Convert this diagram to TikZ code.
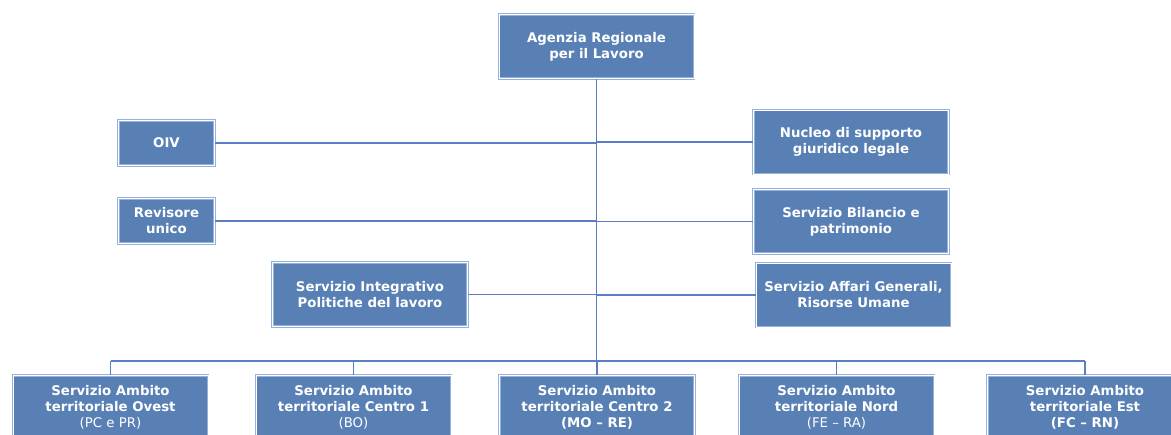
\documentclass[tikz,border=0pt]{standalone}
\usepackage{fontspec}
\setmainfont{DejaVu Sans}
\definecolor{unitblue}{RGB}{88,128,181}
\definecolor{unitedge}{RGB}{150,178,218}
\definecolor{lineblue}{RGB}{90,125,195}

\begin{document}
\begin{tikzpicture}[
    x=1pt,y=-1pt,
    unit/.style={rectangle,draw=unitedge,double=white,double distance=0.7pt,line width=0.7pt,
      fill=unitblue,text=white,minimum width=195pt,minimum height=64pt,inner sep=0pt,
      align=center,font=\fontsize{13.3}{16}\selectfont\bfseries},
    small/.style={unit,minimum width=96pt,minimum height=45pt},
    link/.style={draw=lineblue,line width=1.2pt}
  ]
    \useasboundingbox (0,0) rectangle (1171,435);
    \clip (0,0) rectangle (1171,435);

    \node[unit] (agenzia) at (596.5,46.5) {Agenzia Regionale\\per il Lavoro};

    \node[small] (oiv) at (166.5,143) {OIV};
    \node[small] (revisore) at (166.5,221) {Revisore\\unico};
    \node[unit] (integrativo) at (370,294.5) {Servizio Integrativo\\Politiche del lavoro};

    \node[unit] (nucleo) at (851,142) {Nucleo di supporto\\giuridico legale};
    \node[unit] (bilancio) at (851,221.5) {Servizio Bilancio e\\patrimonio};
    \node[unit] (affari) at (853.5,295) {Servizio Affari Generali,\\Risorse Umane};

    \node[unit] (ovest) at (110.5,407.5) {Servizio Ambito\\territoriale Ovest\\{\mdseries (PC e PR)}};
    \node[unit] (centro1) at (353.5,407.5) {Servizio Ambito\\territoriale Centro 1\\{\mdseries (BO)}};
    \node[unit] (centro2) at (597,407.5) {Servizio Ambito\\territoriale Centro 2\\(MO – RE)};
    \node[unit] (nord) at (836.5,407.5) {Servizio Ambito\\territoriale Nord\\{\mdseries (FE – RA)}};
    \node[unit] (est) at (1085,407.5) {Servizio Ambito\\territoriale Est\\(FC – RN)};

    \coordinate (bus) at (597,361);

    \draw[link] (agenzia.south) -- (agenzia.south |- bus);
    \draw[link] (oiv.east) -- (oiv.east -| agenzia.south);
    \draw[link] (revisore.east) -- (revisore.east -| agenzia.south);
    \draw[link] (integrativo.east) -- (integrativo.east -| agenzia.south);
    \draw[link] (nucleo.west) -- (nucleo.west -| agenzia.south);
    \draw[link] (bilancio.west) -- (bilancio.west -| agenzia.south);
    \draw[link] (affari.west) -- (affari.west -| agenzia.south);

    \draw[link] (ovest.north |- bus) -- (est.north |- bus);
    \foreach \area in {ovest,centro1,centro2,nord,est}
      \draw[link] (\area.north |- bus) -- (\area.north);
  \end{tikzpicture}
\end{document}
